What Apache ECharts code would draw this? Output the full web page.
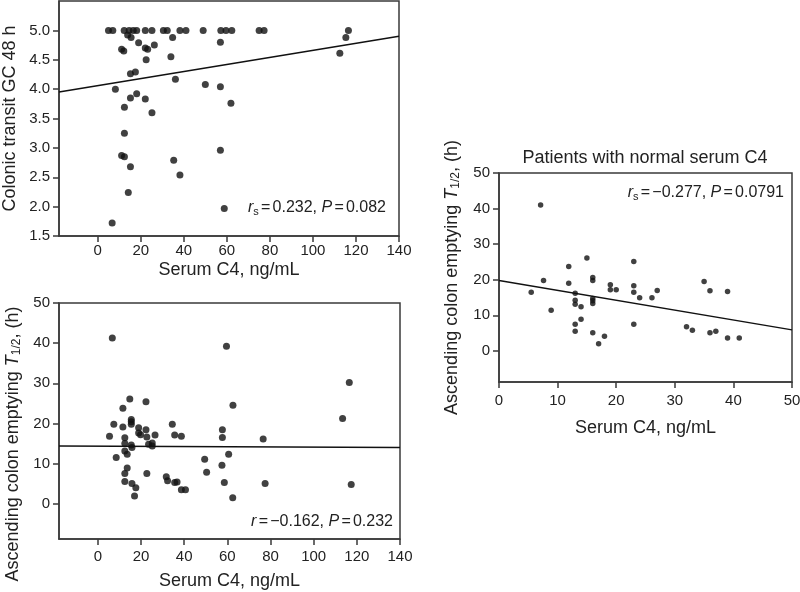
<!DOCTYPE html>
<html><head><meta charset="utf-8">
<script src="https://cdn.jsdelivr.net/npm/echarts@6/dist/echarts.min.js"></script>
<style>html,body{margin:0;padding:0;background:#fff}#c{width:800px;height:592px}</style>
</head><body><div id="c"></div>
<script>
// ---- Top-left: Colonic transit GC 48 h vs serum C4 (all) ----
const transitPoints = [
  [5,5.0],[7,5.0],[12.3,5.0],[14.6,5.0],[16.5,5.0],[18.1,5.0],[22.1,5.0],[25.2,5.0],[30.5,5.0],[32.3,5.0],
  [38.2,5.0],[41,5.0],[49,5.0],[57.2,5.0],[59.6,5.0],[62.3,5.0],[75,5.0],[77.3,5.0],[116.5,5.0],
  [13.9,4.92],[15.5,4.88],[19.0,4.79],[34.8,4.88],[57,4.80],[11.1,4.68],[12.1,4.65],[22.1,4.70],[23.2,4.68],
  [26.3,4.75],[22.5,4.50],[34.0,4.55],[15.2,4.26],[17.5,4.29],[36.1,4.17],[8.2,4.0],[50,4.08],[57,4.04],
  [15.2,3.85],[18.1,3.92],[22.1,3.83],[12.4,3.69],[25.2,3.60],[61.9,3.76],[115.3,4.88],[112.5,4.61],
  [12.4,3.25],[11.1,2.87],[12.4,2.85],[35.3,2.79],[57,2.96],[15.2,2.68],[38.2,2.54],[14.2,2.24],
  [58.8,1.97],[6.7,1.72]
];
const transitFitX = [-18, 140];
const transitFitY = [3.95, 4.90];

// ---- Bottom-left: Ascending colon emptying T1/2 vs serum C4 (all) ----
const emptyAllPoints = [
  [6.7,41.3],[59.6,39.2],[62.6,24.5],[14.8,26.1],[22.3,25.4],[11.6,23.8],[15.5,21.0],[15.5,20.4],[15.5,19.8],
  [7.4,19.8],[11.6,19.1],[18.9,18.9],[22.3,18.4],[34.5,19.8],[57.7,18.4],[5.4,16.8],[12.5,16.4],[18.9,17.6],
  [19.8,17.2],[22.7,16.6],[26.5,17.1],[35.6,17.1],[38.7,16.8],[57.7,16.5],[12.5,15.0],[15.5,14.6],[15.8,14.0],
  [23.5,14.8],[25.2,15.1],[25.2,14.4],[116.5,30.2],[113.4,21.2],[76.6,16.1],[8.5,11.5],[12.5,13.1],[13.6,12.3],
  [13.6,8.9],[12.5,7.5],[22.7,7.5],[12.5,5.5],[15.8,5.0],[17.6,4.0],[17.0,1.9],[31.7,6.7],[32.3,5.7],[35.6,5.3],
  [36.7,5.4],[38.7,3.5],[40.6,3.5],[49.5,11.1],[50.4,7.8],[57.5,9.6],[60.6,12.3],[58.6,5.3],[62.5,1.5],
  [77.5,5.0],[117.4,4.8]
];
const emptyAllFitX = [-18, 140];
const emptyAllFitY = [14.4, 14.0];

// ---- Right: Patients with normal serum C4 ----
const emptyNormalPoints = [
  [7.1,41.0],[7.6,19.8],[5.5,16.5],[8.9,11.4],[11.9,23.7],[11.9,19.0],[15.0,26.1],[13.0,16.2],[13.0,14.2],
  [13.0,13.1],[14.0,12.4],[14.0,8.9],[13.0,7.5],[13.0,5.5],[16.0,20.6],[16.0,19.8],[16.0,14.7],[16.0,14.1],
  [16.0,13.3],[16.0,5.1],[17.0,2.0],[18.0,4.1],[19.0,18.6],[19.0,17.2],[20.0,17.2],[23.0,25.1],[23.0,18.3],
  [23.0,16.5],[23.0,7.5],[24.0,14.9],[26.1,14.9],[27.0,17.0],[32.0,6.8],[33.0,5.8],[35.0,19.5],[36.0,16.9],
  [36.0,5.1],[37.0,5.5],[39.0,16.7],[39.0,3.6],[41.0,3.6]
];
const emptyNormalFitX = [0, 50];
const emptyNormalFitY = [19.8, 5.9];

// tick labels
const leftXTicks = [0, 20, 40, 60, 80, 100, 120, 140];
const transitYTicks = [1.5, 2.0, 2.5, 3.0, 3.5, 4.0, 4.5, 5.0];
const emptyYTicks = [0, 10, 20, 30, 40, 50];
const rightXTicks = [0, 10, 20, 30, 40, 50];

const FONT = '"Liberation Sans", Arial, Helvetica, sans-serif';
const INK = '#222';
const AX = '#3a3a3a';

function zip(xs, ys) { return xs.map((x, i) => [x, ys[i]]); }

function xAxisCfg(idx, min, max, ticks, gap, margin) {
  return {
    type: 'value', gridIndex: idx, min, max, interval: 10,
    axisLine: { show: true, onZero: false, lineStyle: { color: AX, width: 1.5 } },
    axisTick: { show: true, inside: false, length: 6, customValues: ticks, lineStyle: { color: AX, width: 1.5 } },
    axisLabel: { customValues: ticks, margin, color: INK, fontSize: 15, fontFamily: FONT,
      formatter: v => String(v) },
    splitLine: { show: false },
    name: 'Serum C4, ng/mL', nameLocation: 'middle', nameGap: gap,
    nameTextStyle: { fontSize: 18, color: INK, fontFamily: FONT }
  };
}
function yAxisCfg(idx, min, max, ticks, name, gap, dec, pad) {
  return {
    type: 'value', gridIndex: idx, min, max, interval: 0.5,
    axisLine: { show: true, onZero: false, lineStyle: { color: AX, width: 1.5 } },
    axisTick: { show: true, inside: false, length: 6, customValues: ticks, lineStyle: { color: AX, width: 1.5 } },
    axisLabel: { customValues: ticks, margin: 9, color: INK, fontSize: 15, fontFamily: FONT,
      formatter: v => dec ? v.toFixed(dec) : String(Math.round(v)) },
    splitLine: { show: false },
    name, nameLocation: 'middle', nameGap: gap, nameRotate: 90,
    nameTextStyle: { fontSize: 18, color: INK, fontFamily: FONT, padding: pad || 0,
      rich: {
        n: { fontSize: 18, color: INK, fontFamily: FONT },
        i: { fontSize: 18, color: INK, fontFamily: FONT, fontStyle: 'italic' },
        sub: { fontSize: 12, color: INK, fontFamily: FONT, verticalAlign: 'bottom', padding: [8, 0, 0, 0] }
      } }
  };
}
const emptyName = '{n|Ascending colon emptying }{i|T}{sub|1/2}{n|, (h)}';

const statRich = {
  n: { fontSize: 16, fill: INK, fontFamily: FONT },
  i: { fontSize: 16, fill: INK, fontFamily: FONT, fontStyle: 'italic' },
  s: { fontSize: 8, fill: INK, fontFamily: FONT },
  sub: { fontSize: 11, fill: INK, fontFamily: FONT, padding: [7, 0, 0, 0] }
};

const chart = echarts.init(document.getElementById('c'), null, { renderer: 'canvas' });
const gridStyle = { show: true, borderColor: AX, borderWidth: 1.5, backgroundColor: 'transparent', containLabel: false, outerBoundsMode: 'none' };

chart.setOption({
  animation: false,
  backgroundColor: '#fff',
  grid: [
    Object.assign({ left: 59, top: 1, width: 340, height: 235 }, gridStyle),
    Object.assign({ left: 59, top: 303, width: 341, height: 236 }, gridStyle),
    Object.assign({ left: 499, top: 173, width: 293, height: 209 }, gridStyle)
  ],
  title: [{
    text: 'Patients with normal serum C4', left: 645, top: 149, textAlign: 'center',
    textStyle: { fontSize: 18, fontWeight: 'normal', color: INK, fontFamily: FONT }, padding: 0
  }],
  xAxis: [
    xAxisCfg(0, -18, 140, leftXTicks, 25, 7),
    xAxisCfg(1, -18, 140, leftXTicks, 33, 10),
    xAxisCfg(2, 0, 50, rightXTicks, 37, 11)
  ],
  yAxis: [
    yAxisCfg(0, 1.5, 5.5, transitYTicks, 'Colonic transit GC 48 h', 40, 1),
    yAxisCfg(1, -8.8, 50, emptyYTicks, emptyName, 36, 0, [0, 46, 0, 0]),
    yAxisCfg(2, -8.75, 50, emptyYTicks, emptyName, 37, 0)
  ],
  graphic: [
    { type: 'text', x: 386, y: 208, style: { text: '{i|r}{sub|s}{s| }{n|=}{s| }{n|0.232, }{i|P}{s| }{n|=}{s| }{n|0.082}', rich: statRich, align: 'right', verticalAlign: 'middle' } },
    { type: 'text', x: 393, y: 522, style: { text: '{i|r}{s| }{n|=}{s| }{n|\u22120.162, }{i|P}{s| }{n|=}{s| }{n|0.232}', rich: statRich, align: 'right', verticalAlign: 'middle' } },
    { type: 'text', x: 784, y: 193, style: { text: '{i|r}{sub|s}{s| }{n|=}{s| }{n|\u22120.277, }{i|P}{s| }{n|=}{s| }{n|0.0791}', rich: statRich, align: 'right', verticalAlign: 'middle' } }
  ],
  series: [
    { type: 'scatter', xAxisIndex: 0, yAxisIndex: 0, data: transitPoints, symbolSize: 7, itemStyle: { color: '#111' } },
    { type: 'line', xAxisIndex: 0, yAxisIndex: 0, data: zip(transitFitX, transitFitY), showSymbol: false, lineStyle: { color: '#111', width: 1.5 } },
    { type: 'scatter', xAxisIndex: 1, yAxisIndex: 1, data: emptyAllPoints, symbolSize: 7, itemStyle: { color: '#111' } },
    { type: 'line', xAxisIndex: 1, yAxisIndex: 1, data: zip(emptyAllFitX, emptyAllFitY), showSymbol: false, lineStyle: { color: '#111', width: 1.5 } },
    { type: 'scatter', xAxisIndex: 2, yAxisIndex: 2, data: emptyNormalPoints, symbolSize: 5.5, itemStyle: { color: '#111' } },
    { type: 'line', xAxisIndex: 2, yAxisIndex: 2, data: zip(emptyNormalFitX, emptyNormalFitY), showSymbol: false, lineStyle: { color: '#111', width: 1.5 } }
  ]
});
</script>
</body></html>
